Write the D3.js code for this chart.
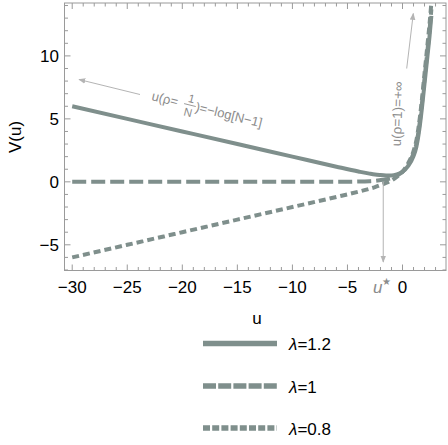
<!DOCTYPE html>
<html><head><meta charset="utf-8">
<script src="https://cdn.jsdelivr.net/npm/d3@7"></script>
<style>body{margin:0;background:#fff} svg{display:block}</style>
</head><body><svg id="chart" width="448" height="445"></svg>
<script>
// Potential V(u) for three values of lambda, sampled on a shared u grid
const uValues   = [-30, -25, -20, -15, -10, -6, -4, -3, -2.5, -2, -1.5, -1, -0.5, 0, 0.5, 1, 1.25, 1.5, 1.75, 2, 2.25, 2.45, 2.62];
const vLambda12 = [6.0, 5.0, 4.0, 3.0, 2.0, 1.2, 0.82, 0.65, 0.58, 0.54, 0.51, 0.5, 0.6, 0.8, 1.25, 2.05, 2.75, 4.0, 5.75, 7.8, 9.85, 11.51, 13.18];
const vLambda10 = [0, 0, 0, 0, 0, 0, 0.02, 0.05, 0.08, 0.14, 0.21, 0.3, 0.5, 0.8, 1.35, 2.25, 3.0, 4.3, 6.1, 8.2, 10.3, 12.0, 13.7];
const vLambda08 = [-6.0, -5.0, -4.0, -3.0, -2.0, -1.2, -0.78, -0.55, -0.42, -0.26, -0.09, 0.1, 0.4, 0.8, 1.45, 2.45, 3.25, 4.6, 6.45, 8.6, 10.75, 12.49, 14.22];
const lambdaLabels = ["1.2", "1", "0.8"];
const xTickValues = [-30, -25, -20, -15, -10, -5, 0];
const yTickValues = [-5, 0, 5, 10];
const uStar = -1.75;

const svg = d3.select("#chart");
const col = "#7f8f8c";
const annCol = "#b4b4b4";
const annText = "#8c8c8c";
const frameCol = "#9a9a9a";
const font = "Liberation Sans, Arial, sans-serif";

const x = d3.scaleLinear().domain([-30.7, 3.95]).range([64.5, 446]);
const y = d3.scaleLinear().domain([-7.04, 14.2]).range([270.5, 3]);
const [x0, x1] = x.range();
const [y0, y1] = y.range();

// arrow marker for annotations
const defs = svg.append("defs");
defs.append("marker").attr("id", "arr").attr("viewBox", "0 0 10 10")
  .attr("refX", 9).attr("refY", 5).attr("markerWidth", 7).attr("markerHeight", 7)
  .attr("orient", "auto-start-reverse").attr("markerUnits", "userSpaceOnUse")
  .append("path").attr("d", "M0,1 L10,5 L0,9 Z").attr("fill", annCol);
defs.append("clipPath").attr("id", "plotClip").append("rect")
  .attr("x", x0).attr("y", y1).attr("width", x1 - x0).attr("height", y0 - y1);

// frame with inward ticks on all four sides
const xMinor = d3.range(-30, 4, 1);
const yMinor = d3.range(-7, 15, 1);
const ticksG = svg.append("g").attr("stroke", frameCol).attr("stroke-width", 1);
xMinor.forEach(v => {
  const len = v % 5 === 0 ? 6 : 3.5;
  ticksG.append("line").attr("x1", x(v)).attr("x2", x(v)).attr("y1", y0).attr("y2", y0 - len);
  ticksG.append("line").attr("x1", x(v)).attr("x2", x(v)).attr("y1", y1).attr("y2", y1 + len);
});
yMinor.forEach(v => {
  const len = v % 5 === 0 ? 6 : 3.5;
  ticksG.append("line").attr("y1", y(v)).attr("y2", y(v)).attr("x1", x0).attr("x2", x0 + len);
  ticksG.append("line").attr("y1", y(v)).attr("y2", y(v)).attr("x1", x1).attr("x2", x1 - len);
});
svg.append("rect").attr("x", x0).attr("y", y1).attr("width", x1 - x0).attr("height", y0 - y1)
  .attr("fill", "none").attr("stroke", frameCol).attr("stroke-width", 1);

const fmt = v => (v < 0 ? "\u2212" + Math.abs(v) : String(v));
svg.append("g").selectAll("text").data(xTickValues).join("text")
  .attr("x", d => x(d)).attr("y", 293).attr("text-anchor", "middle")
  .attr("font-family", font).attr("font-size", 17)
  .text(fmt);
svg.append("g").selectAll("text").data(yTickValues).join("text")
  .attr("x", 59).attr("y", d => y(d) + 6).attr("text-anchor", "end")
  .attr("font-family", font).attr("font-size", 17)
  .text(fmt);

// axis titles
svg.append("text").attr("x", 257).attr("y", 324).attr("text-anchor", "middle")
  .attr("font-family", font).attr("font-size", 17).text("u");
svg.append("text").attr("transform", "translate(21,137) rotate(-90)").attr("text-anchor", "middle")
  .attr("font-family", font).attr("font-size", 17).text("V(u)");

// curves
const series = [
  { vals: vLambda12, dash: null },
  { vals: vLambda10, dash: "14,5" },
  { vals: vLambda08, dash: "7,4" }
];
const line = d3.line().x(d => x(d[0])).y(d => y(d[1])).curve(d3.curveMonotoneX);
const plotG = svg.append("g").attr("clip-path", "url(#plotClip)");
series.forEach(s => {
  plotG.append("path").datum(uValues.map((u, i) => [u, s.vals[i]]))
    .attr("d", line).attr("fill", "none").attr("stroke", col)
    .attr("stroke-width", 4).attr("stroke-dasharray", s.dash);
});

// annotation: left boundary u(rho=1/N)
svg.append("line").attr("x1", 140).attr("y1", 94.5).attr("x2", 79).attr("y2", 79.5)
  .attr("stroke", annCol).attr("stroke-width", 1).attr("marker-end", "url(#arr)");
const ann = svg.append("g").attr("transform", "translate(151,100) rotate(14)")
  .attr("fill", annText).attr("font-family", font).attr("font-size", 13);
ann.append("text").attr("x", 0).attr("y", 0).text("u(\u03c1=");
ann.append("line").attr("x1", 33).attr("x2", 45).attr("y1", -4.5).attr("y2", -4.5).attr("stroke", annText).attr("stroke-width", 0.8);
ann.append("text").attr("x", 39).attr("y", -7).attr("text-anchor", "middle").attr("font-size", 11.5).text("1");
ann.append("text").attr("x", 39).attr("y", 7).attr("text-anchor", "middle").attr("font-size", 11.5).text("N");
ann.append("text").attr("x", 45).attr("y", 0).text(")=\u2212log[N\u22121]");

// annotation: right boundary u(rho=1)
svg.append("line").attr("x1", 406.7).attr("y1", 68.5).attr("x2", 413.3).attr("y2", 13.5)
  .attr("stroke", annCol).attr("stroke-width", 1).attr("marker-end", "url(#arr)");
svg.append("text").attr("transform", "translate(402,114) rotate(-88)").attr("text-anchor", "middle")
  .attr("fill", annText).attr("font-family", font).attr("font-size", 13.5)
  .text("u(\u03c1=1)=+\u221e");

// u* marker
svg.append("line").attr("x1", x(uStar)).attr("x2", x(uStar)).attr("y1", y(0)).attr("y2", 262)
  .attr("stroke", annCol).attr("stroke-width", 1).attr("marker-end", "url(#arr)");
const us = svg.append("text").attr("x", x(uStar) - 1).attr("y", 293).attr("text-anchor", "middle")
  .attr("fill", annText).attr("font-family", font).attr("font-size", 17);
us.append("tspan").attr("font-style", "italic").text("u");
us.append("tspan").attr("font-size", 10).attr("dy", -8).text("\u2605");

// legend
const legY = [343.5, 386, 428];
const leg = svg.append("g");
series.forEach((s, i) => {
  leg.append("line").attr("x1", 203).attr("x2", 277).attr("y1", legY[i]).attr("y2", legY[i])
    .attr("stroke", col).attr("stroke-width", 5.5)
    .attr("stroke-dasharray", i === 0 ? null : (i === 1 ? "13,2.2" : "7,2.2"));
  const t = leg.append("text").attr("x", 289).attr("y", legY[i] + 6.5)
    .attr("font-family", font).attr("font-size", 17);
  t.append("tspan").attr("font-style", "italic").text("\u03bb");
  t.append("tspan").text("=" + lambdaLabels[i]);
});
</script></body></html>
